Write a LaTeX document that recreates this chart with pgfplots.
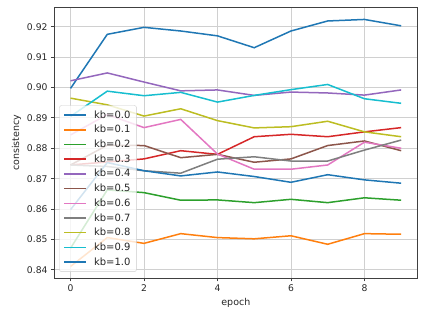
\documentclass[border=0pt]{standalone}
\usepackage{pgfplots}
\pgfplotsset{compat=1.18}
\usepackage{fontspec}
\setmainfont{DejaVu Sans}
\definecolor{c0}{HTML}{1F77B4}
\definecolor{c1}{HTML}{FF7F0E}
\definecolor{c2}{HTML}{2CA02C}
\definecolor{c3}{HTML}{D62728}
\definecolor{c4}{HTML}{9467BD}
\definecolor{c5}{HTML}{8C564B}
\definecolor{c6}{HTML}{E377C2}
\definecolor{c7}{HTML}{7F7F7F}
\definecolor{c8}{HTML}{BCBD22}
\definecolor{c9}{HTML}{17BECF}
\definecolor{gridc}{HTML}{D0D0D0}
\definecolor{legc}{HTML}{CCCCCC}
\begin{document}
\begin{tikzpicture}
\begin{axis}[
  name=ax,
  scale only axis,
  width=363.7pt, height=271pt,
  xmin=-0.45, xmax=9.45,
  ymin=0.8372, ymax=0.9264,
  xtick={0,2,4,6,8},
  ytick={0.84,0.85,0.86,0.87,0.88,0.89,0.90,0.91,0.92},
  yticklabel style={/pgf/number format/.cd,fixed,fixed zerofill,precision=2},
  /pgf/number format/assume math mode=true,
  tick label style={font=\fontsize{9.2}{10}\selectfont, text=black!85},
  label style={font=\fontsize{9.5}{10}\selectfont, text=black!85},
  xlabel={epoch}, ylabel={consistency},
  grid=major,
  major grid style={gridc, line width=0.8pt},
  axis line style={black!75, line width=0.8pt},
  tick align=outside,
  tick pos=left,
  major tick length=3pt,
  tick style={black!75, line width=0.8pt},
  every axis plot/.append style={line width=1.5pt, no markers},
  legend style={at={(0.0146,0.024)}, anchor=south west, font=\fontsize{10}{11}\selectfont,
    fill=white, fill opacity=0.8, text opacity=1, draw opacity=1, draw=legc, rounded corners=2pt,
    row sep=1.6pt, inner xsep=4pt, inner ysep=3pt, text=black!85,
    /tikz/every odd column/.append style={column sep=5pt}},
  legend cell align=left,
  legend image code/.code={\draw[mark repeat=2,mark phase=2] plot coordinates {(0pt,0pt) (11pt,0pt) (22pt,0pt)};},
  ylabel style={yshift=-1pt},
]
\addplot[c0] coordinates {(0,0.8997)(1,0.9175)(2,0.9198)(3,0.9186)(4,0.9170)(5,0.9131)(6,0.9186)(7,0.9219)(8,0.9224)(9,0.9203)};
\addlegendentry{kb=0.0}
\addplot[c1] coordinates {(0,0.8411)(1,0.8506)(2,0.8487)(3,0.8519)(4,0.8506)(5,0.8502)(6,0.8512)(7,0.8484)(8,0.8519)(9,0.8517)};
\addlegendentry{kb=0.1}
\addplot[c2] coordinates {(0,0.8471)(1,0.8663)(2,0.8654)(3,0.8629)(4,0.8630)(5,0.8621)(6,0.8632)(7,0.8621)(8,0.8637)(9,0.8629)};
\addlegendentry{kb=0.2}
\addplot[c3] coordinates {(0,0.8745)(1,0.8755)(2,0.8765)(3,0.8792)(4,0.8780)(5,0.8838)(6,0.8846)(7,0.8838)(8,0.8854)(9,0.8868)};
\addlegendentry{kb=0.3}
\addplot[c4] coordinates {(0,0.9022)(1,0.9048)(2,0.9018)(3,0.8989)(4,0.8992)(5,0.8974)(6,0.8985)(7,0.8982)(8,0.8975)(9,0.8992)};
\addlegendentry{kb=0.4}
\addplot[c5] coordinates {(0,0.8745)(1,0.8810)(2,0.8809)(3,0.8769)(4,0.8780)(5,0.8754)(6,0.8765)(7,0.8809)(8,0.8824)(9,0.8792)};
\addlegendentry{kb=0.5}
\addplot[c6] coordinates {(0,0.8844)(1,0.8911)(2,0.8868)(3,0.8895)(4,0.8781)(5,0.8731)(6,0.8731)(7,0.8745)(8,0.8820)(9,0.8800)};
\addlegendentry{kb=0.6}
\addplot[c7] coordinates {(0,0.8745)(1,0.8740)(2,0.8726)(3,0.8718)(4,0.8764)(5,0.8772)(6,0.8758)(7,0.8758)(8,0.8794)(9,0.8827)};
\addlegendentry{kb=0.7}
\addplot[c8] coordinates {(0,0.8965)(1,0.8943)(2,0.8906)(3,0.8930)(4,0.8891)(5,0.8867)(6,0.8871)(7,0.8889)(8,0.8854)(9,0.8838)};
\addlegendentry{kb=0.8}
\addplot[c9] coordinates {(0,0.8905)(1,0.8988)(2,0.8973)(3,0.8984)(4,0.8952)(5,0.8974)(6,0.8993)(7,0.9010)(8,0.8963)(9,0.8948)};
\addlegendentry{kb=0.9}
\addplot[c0] coordinates {(0,0.8598)(1,0.8753)(2,0.8726)(3,0.8709)(4,0.8722)(5,0.8707)(6,0.8688)(7,0.8713)(8,0.8696)(9,0.8685)};
\addlegendentry{kb=1.0}
\end{axis}
\pgfresetboundingbox
\path (ax.south west) ++(-54pt,-33.7pt) coordinate (bl);
\path (ax.north east) ++(10.3pt,7.3pt) coordinate (tr);
\path[use as bounding box] (bl) rectangle (tr);
\end{tikzpicture}
\end{document}
